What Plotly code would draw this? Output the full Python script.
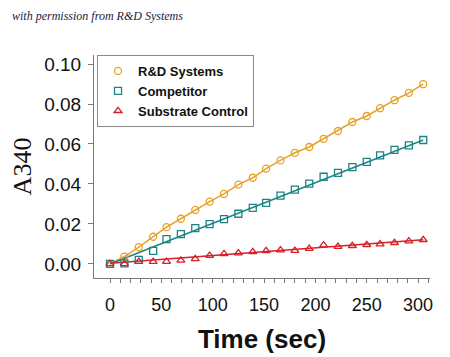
import plotly.graph_objects as go

# Data
time_s = [0, 14, 28, 42, 55, 69, 83, 97, 111, 125, 139, 152, 166, 180,
          194, 208, 222, 236, 250, 263, 277, 291, 305]
rd_systems = [0.0000, 0.0037, 0.0084, 0.0136, 0.0184, 0.0226, 0.0270, 0.0312,
              0.0350, 0.0397, 0.0431, 0.0477, 0.0518, 0.0556, 0.0585, 0.0626,
              0.0665, 0.0710, 0.0740, 0.0779, 0.0819, 0.0856, 0.0899]
competitor = [0.0000, 0.0003, 0.0020, 0.0065, 0.0124, 0.0149, 0.0179, 0.0199,
              0.0224, 0.0251, 0.0280, 0.0305, 0.0342, 0.0372, 0.0402, 0.0436,
              0.0456, 0.0484, 0.0511, 0.0543, 0.0571, 0.0593, 0.0620]
substrate = [0.0000, 0.0000, 0.0012, 0.0012, 0.0012, 0.0018, 0.0025, 0.0042,
             0.0050, 0.0054, 0.0060, 0.0065, 0.0069, 0.0067, 0.0077, 0.0094,
             0.0087, 0.0091, 0.0096, 0.0099, 0.0106, 0.0114, 0.0121]

# Linear fit lines (end points)
fit_time = [0, 305]
comp_fit = [0.0000, 0.0620]
sub_fit = [0.0003, 0.0121]

series_names = ["R&D Systems", "Competitor", "Substrate Control"]
x_tick_vals = list(range(0, 311, 10))
x_tick_text = [str(v) if v % 50 == 0 else "" for v in x_tick_vals]
y_tick_vals = [0.00, 0.02, 0.04, 0.06, 0.08, 0.10]

ORANGE = "#E8A126"
TEAL = "#1C8584"
RED = "#D6202A"

fig = go.Figure()

# fitted / connecting lines (drawn below the markers)
fig.add_trace(go.Scatter(x=time_s, y=rd_systems, mode="lines",
                         line=dict(color=ORANGE, width=1.5),
                         showlegend=False, hoverinfo="skip"))
fig.add_trace(go.Scatter(x=fit_time, y=comp_fit, mode="lines",
                         line=dict(color=TEAL, width=1.5),
                         showlegend=False, hoverinfo="skip"))
fig.add_trace(go.Scatter(x=fit_time, y=sub_fit, mode="lines",
                         line=dict(color=RED, width=1.5),
                         showlegend=False, hoverinfo="skip"))

for name, vals, color, sym in [
    (series_names[0], rd_systems, ORANGE, "circle-open"),
    (series_names[1], competitor, TEAL, "square-open"),
    (series_names[2], substrate, RED, "triangle-up-open"),
]:
    fig.add_trace(go.Scatter(x=time_s, y=vals, mode="markers", name=name,
                             marker=dict(symbol=sym, size=7, color=color,
                                         line=dict(width=1.3, color=color))))

# The page body has an 8px default margin, so the figure is 8px smaller
fig.update_layout(
    width=442, height=349,
    margin=dict(l=86, r=20, t=47, b=79),
    paper_bgcolor="white", plot_bgcolor="white",
    font=dict(family="Liberation Sans, Arial, sans-serif", color="#111111"),
    showlegend=True,
    legend=dict(x=0.009, y=1.0, xanchor="left", yanchor="top",
                bordercolor="#8a8a8a", borderwidth=1, bgcolor="white",
                font=dict(family="Liberation Sans, Arial, sans-serif",
                          size=13, color="#111111", weight="bold"),
                itemwidth=30, tracegroupgap=0),
    xaxis=dict(range=[-15.6, 311.6], showgrid=False, zeroline=False,
               automargin=False,
               showline=True, linecolor="#7a7a7a", linewidth=1,
               ticks="outside", ticklen=4, tickcolor="#7a7a7a",
               tickmode="array", tickvals=x_tick_vals, ticktext=x_tick_text,
               tickfont=dict(size=18), ticklabelstandoff=6,
               title=dict(text="Time (sec)",
                          font=dict(size=26, weight="bold",
                                    family="Liberation Sans, Arial, sans-serif"),
                          standoff=16)),
    yaxis=dict(range=[-0.00704, 0.10452], showgrid=False, zeroline=False,
               automargin=False,
               showline=True, linecolor="#7a7a7a", linewidth=1,
               ticks="outside", ticklen=5, tickcolor="#7a7a7a",
               tickmode="array", tickvals=y_tick_vals, tickformat=".2f",
               tickfont=dict(size=19), ticklabelstandoff=3,
               title=dict(text="A340",
                          font=dict(size=26, family="Liberation Serif, Times New Roman, serif"),
                          standoff=13)),
    annotations=[dict(text="<i>with permission from R&D Systems</i>",
                      xref="paper", yref="paper", x=-86/336, y=1 + 39/223,
                      xanchor="left", yanchor="middle", showarrow=False,
                      xshift=2,
                      font=dict(family="Liberation Serif, serif", size=12,
                                color="#1a1a40"))],
)

fig.write_html("out.html")
